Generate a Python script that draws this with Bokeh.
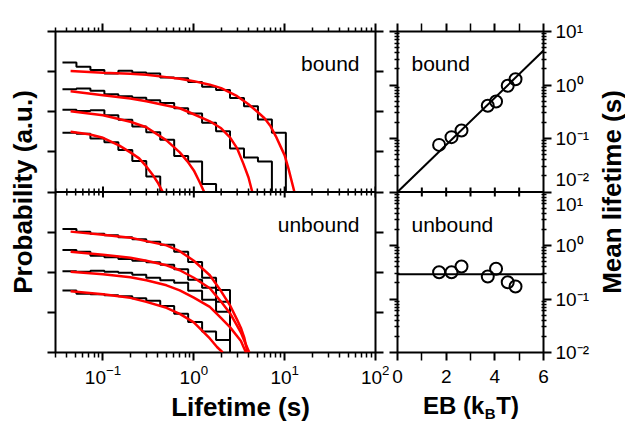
import math
from bokeh.plotting import figure
from bokeh.models import (Range1d, LogAxis, LinearAxis, FixedTicker, Span, Label,
                          CustomJSTickFormatter)
from bokeh.layouts import row
from bokeh.embed import file_html
from bokeh.resources import INLINE

FONT = "Liberation Sans"

# ---------------- left panels: lifetime survival histograms ----------------
# log-spaced bin edges (s)
bin_edges = [0.0358, 0.0510, 0.0727, 0.1036, 0.1476, 0.2102, 0.2995, 0.4267,
             0.6077, 0.8659, 1.233, 1.757, 2.503, 3.566, 5.080, 7.236, 10.31]

# bound (top panel), probability in a.u. (panel units)
bound_hist_1 = [0.170, 0.132, 0.110, 0.090, 0.105, 0.095, 0.090, 0.071,
                0.068, 0.055, 0.042, 0.035, 0.022, 0.0138, 0.0064, 0.0030]
bound_hist_2 = [0.0365, 0.0380, 0.0335, 0.0274, 0.0244, 0.0224, 0.0194, 0.0166,
                0.0122, 0.00902, 0.00531, 0.00325, 0.00122, 0.000729, 0.000579]
bound_hist_3 = [0.01122, 0.01047, 0.0109, 0.00818, 0.00631, 0.00427, 0.00307,
                0.00200, 0.000794, 0.000579, 0.000158]
bound_hist_4 = [0.00299, 0.00282, 0.00214, 0.00173, 0.00112, 0.000596, 0.000244]

bound_fit_t_1 = [0.044, 0.1, 0.2, 0.3, 0.5, 0.7, 1, 1.5, 2, 3, 4, 5, 6, 7, 8, 9, 10, 11, 12.8]
bound_fit_p_1 = [0.103, 0.0933, 0.0891, 0.0841, 0.0729, 0.0668, 0.0579, 0.0473, 0.0387,
                 0.0244, 0.0154, 0.0100, 0.00688, 0.00434, 0.00244, 0.00137, 0.000818,
                 0.000387, 0.0001]
bound_fit_t_2 = [0.044, 0.1, 0.2, 0.3, 0.5, 0.7, 1, 1.5, 2, 2.5, 3, 3.5, 4, 4.4]
bound_fit_p_2 = [0.0325, 0.0259, 0.0214, 0.0183, 0.01437, 0.01224, 0.00866, 0.00579,
                 0.00387, 0.00230, 0.00122, 0.000516, 0.000230, 0.0001]
bound_fit_t_3 = [0.044, 0.1, 0.2, 0.3, 0.5, 0.7, 0.85, 1, 1.15, 1.3]
bound_fit_p_3 = [0.01029, 0.00818, 0.00562, 0.00410, 0.00194, 0.000972, 0.000579,
                 0.000345, 0.000183, 0.0001]
bound_fit_t_4 = [0.044, 0.07, 0.1, 0.15, 0.2, 0.25, 0.3, 0.35, 0.4, 0.455]
bound_fit_p_4 = [0.00316, 0.00274, 0.00224, 0.001453, 0.000972, 0.000688, 0.000434,
                 0.000274, 0.000173, 0.0001]

# unbound (bottom panel), probability in a.u. (panel units)
unbound_hist_1 = [0.120, 0.1029, 0.0917, 0.0841, 0.0741, 0.0668, 0.0579, 0.0487,
                  0.0325, 0.0180, 0.00729, 0.00359]
unbound_hist_2 = [0.0361, 0.0325, 0.0259, 0.0237, 0.0214, 0.0194, 0.0178, 0.0154,
                  0.0119, 0.00649, 0.00410, 0.00183]
unbound_hist_3 = [0.0106, 0.0103, 0.0109, 0.0103, 0.00972, 0.00866, 0.00729, 0.00631,
                  0.00546, 0.00345, 0.00205, 0.00103]
unbound_hist_4 = [0.00351, 0.00290, 0.00282, 0.00266, 0.00251, 0.00224, 0.00194,
                  0.00145, 0.000918, 0.000579, 0.000335, 0.000205]

unbound_fit_t_1 = [0.044, 0.1, 0.2, 0.3, 0.5, 0.7, 1, 1.5, 2, 2.5, 3, 3.3, 3.6, 3.9]
unbound_fit_p_1 = [0.1029, 0.0866, 0.0729, 0.0596, 0.0468, 0.0335, 0.0194, 0.00841,
                   0.00335, 0.00150, 0.000649, 0.000410, 0.000230, 0.0001]
unbound_fit_t_2 = [0.044, 0.1, 0.2, 0.3, 0.5, 0.7, 1, 1.5, 2, 2.5, 3, 3.3, 3.7, 4.08]
unbound_fit_p_2 = [0.0325, 0.0274, 0.0230, 0.0194, 0.01496, 0.01122, 0.00729, 0.00398,
                   0.00183, 0.000955, 0.000460, 0.000313, 0.000168, 0.0001]
unbound_fit_t_3 = [0.044, 0.1, 0.2, 0.3, 0.5, 0.7, 1, 1.5, 2, 2.5, 3, 3.3, 3.75]
unbound_fit_p_3 = [0.0103, 0.00891, 0.00750, 0.00631, 0.00473, 0.00355, 0.00233,
                   0.00137, 0.000716, 0.000429, 0.000254, 0.000194, 0.0001]
unbound_fit_t_4 = [0.044, 0.1, 0.2, 0.3, 0.5, 0.7, 1, 1.5, 1.8, 2.08]
unbound_fit_p_4 = [0.00335, 0.00282, 0.00230, 0.00183, 0.00130, 0.000918, 0.000562,
                   0.000224, 0.000137, 0.0001]

# ---------------- right panels: mean lifetime vs EB ----------------
eb = [1.71, 2.22, 2.63, 3.71, 4.05, 4.53, 4.85]
tau_bound = [0.076, 0.106, 0.141, 0.41, 0.49, 0.97, 1.28]
tau_unbound = [0.317, 0.317, 0.405, 0.264, 0.367, 0.206, 0.171]
eb_fit = [0, 6]
tau_fit_bound = [0.01, 4.4]
tau_fit_unbound = [0.29, 0.29]

# tick labels
x_major_ticks = [0.1, 1, 10, 100]
eb_major_ticks = [0, 2, 4, 6]
eb_minor_ticks = [1, 3, 5]
sup_labels = {1: "10\u00b9", 0: "10\u2070", -1: "10\u207b\u00b9", -2: "10\u207b\u00b2"}

# stacking: both panels of a column share one frame; bottom panel is shifted
SHIFT_L = 1e-4      # left column: 4 decades per panel
SHIFT_R = 1e-3      # right column: 3 decades per panel
BOUND_L = 1e-4
BOUND_R = 1e-2


def style_axis(ax, major_out, major_in=0, minor_out=0, minor_in=0,
               labels=False, standoff=5):
    ax.axis_line_color = None
    ax.major_tick_line_color = "black"
    ax.major_tick_line_width = 2
    ax.minor_tick_line_color = "black"
    ax.minor_tick_line_width = 1.5
    ax.major_tick_out = major_out
    ax.major_tick_in = major_in
    ax.minor_tick_out = minor_out
    ax.minor_tick_in = minor_in
    if labels:
        ax.major_label_text_font = FONT
        ax.major_label_text_font_size = "19px"
        ax.major_label_text_color = "black"
        ax.major_label_standoff = standoff
    else:
        ax.formatter = CustomJSTickFormatter(code="return ''")
        ax.major_label_text_font_size = "0px"
        ax.major_label_standoff = 0


def style_title(ax, text, standoff):
    ax.axis_label = text
    ax.axis_label_text_font = FONT
    ax.axis_label_text_font_size = "26px"
    ax.axis_label_text_font_style = "bold"
    ax.axis_label_text_color = "black"
    ax.axis_label_standoff = standoff


def make_label(text, x, y, dx, dy, size, bold=False, align="left", angle=0.0,
               baseline="alphabetic"):
    return Label(x=x, y=y, x_offset=dx, y_offset=dy, text=text,
                 text_font=FONT, text_font_size=f"{size}px",
                 text_font_style="bold" if bold else "normal",
                 text_align=align, text_baseline=baseline,
                 angle=angle, text_color="black")


def base_fig(width, mb_left, mb_right, **kw):
    p = figure(width=width, height=426, output_backend="svg", toolbar_location=None,
               min_border_left=mb_left, min_border_right=mb_right,
               min_border_top=31, min_border_bottom=74, **kw)
    p.xgrid.grid_line_color = None
    p.ygrid.grid_line_color = None
    p.outline_line_color = "black"
    p.outline_line_width = 2
    p.outline_line_alpha = 1
    p.background_fill_color = "white"
    p.border_fill_color = "white"
    return p


# ================= left column =================
left = base_fig(389, 55, 14, x_axis_type="log", y_axis_type="log",
                x_range=Range1d(0.03, 100), y_range=Range1d(1e-8, 1))

x_minor = [m * d for d in (0.01, 0.1, 1, 10) for m in range(2, 10) if 0.03 <= m * d <= 100]
left_decades = [10.0 ** k for k in range(-8, 1)]

xt = FixedTicker(ticks=x_major_ticks, minor_ticks=x_minor)
yt = FixedTicker(ticks=left_decades, minor_ticks=[])

bx = left.xaxis[0]
bx.ticker = xt
style_axis(bx, 8, 0, 5, 0, labels=True, standoff=4)
ax_top = LogAxis(ticker=xt)
style_axis(ax_top, 8, 0, 4, 0)
left.add_layout(ax_top, "above")

ly = left.yaxis[0]
ly.ticker = yt
style_axis(ly, 8)
style_title(ly, "Probability (a.u.)", 10)
ry = LogAxis(ticker=yt)
style_axis(ry, 8)
left.add_layout(ry, "right")

left.add_layout(Span(location=BOUND_L, dimension="width", line_color="black", line_width=2))
left.scatter(x=x_major_ticks, y=[BOUND_L] * len(x_major_ticks), marker="dash", size=11,
             angle=math.pi / 2, line_color="black", line_width=2)
left.scatter(x=x_minor, y=[BOUND_L] * len(x_minor), marker="dash", size=7,
             angle=math.pi / 2, line_color="black", line_width=1.5)


def hist(p, values, shift, floor):
    n = len(values)
    xs = bin_edges[:n + 1]
    ys = [v * shift for v in values] + [floor]
    p.step(x=xs, y=ys, mode="after", line_color="black", line_width=2)


for h in (bound_hist_1, bound_hist_2, bound_hist_3, bound_hist_4):
    hist(left, h, 1.0, BOUND_L)
for h in (unbound_hist_1, unbound_hist_2, unbound_hist_3, unbound_hist_4):
    hist(left, h, SHIFT_L, 1e-8)

for t, pv in ((bound_fit_t_1, bound_fit_p_1), (bound_fit_t_2, bound_fit_p_2),
              (bound_fit_t_3, bound_fit_p_3), (bound_fit_t_4, bound_fit_p_4)):
    left.line(t, pv, line_color="#ff0000", line_width=2.5, line_join="round")
for t, pv in ((unbound_fit_t_1, unbound_fit_p_1), (unbound_fit_t_2, unbound_fit_p_2),
              (unbound_fit_t_3, unbound_fit_p_3), (unbound_fit_t_4, unbound_fit_p_4)):
    left.line(t, [v * SHIFT_L for v in pv], line_color="#ff0000", line_width=2.5,
              line_join="round")

left.add_layout(make_label("bound", 100, 1, -16, -32, 21, align="right"))
left.add_layout(make_label("unbound", 100, BOUND_L, -16, -32.5, 21, align="right"))
# x-axis title sits in the bottom side panel (not clipped by the frame)
left.add_layout(make_label("Lifetime (s)", 0.03, 1e-8, 185, -54, 26, bold=True,
                           align="center", baseline="middle"), "below")

# ================= right column =================
right = base_fig(236, 8, 82, y_axis_type="log",
                 x_range=Range1d(0, 6), y_range=Range1d(1e-5, 10))

r_decades = [1e-5, 1e-4, 1e-3, 1e-2, 1e-1, 1.0, 10.0]
r_minor = [m * d for d in r_decades[:-1] for m in range(2, 10)]
ebt = FixedTicker(ticks=eb_major_ticks, minor_ticks=eb_minor_ticks)
rt = FixedTicker(ticks=r_decades, minor_ticks=r_minor)

rbx = right.xaxis[0]
rbx.ticker = ebt
style_axis(rbx, 8, 0, 8, 0, labels=True, standoff=9)
rtop = LinearAxis(ticker=ebt)
style_axis(rtop, 8, 0, 8, 0)
right.add_layout(rtop, "above")

rly = right.yaxis[0]
rly.ticker = rt
style_axis(rly, 8, 0, 3, 2)
rry = LogAxis(ticker=rt)
style_axis(rry, 8, 0, 3, 2, labels=True, standoff=4)
rry.major_label_overrides = {
    10.0: sup_labels[1], 1.0: sup_labels[0], 0.1: sup_labels[-1],
    0.01: sup_labels[-2] + "\n" + sup_labels[1],
    0.001: sup_labels[0], 0.0001: sup_labels[-1], 1e-05: sup_labels[-2],
}
right.add_layout(rry, "right")
# y-axis title on the right, reading bottom-to-top, in the right side panel
right.add_layout(make_label("Mean lifetime (s)", 6, BOUND_R, 68, 0, 26, bold=True,
                            align="center", angle=math.pi / 2, baseline="middle"),
                 "right")

right.add_layout(Span(location=BOUND_R, dimension="width", line_color="black", line_width=2))
right.scatter(x=eb_minor_ticks + eb_major_ticks[1:3], y=[BOUND_R] * 5, marker="dash",
              size=9, angle=math.pi / 2, line_color="black", line_width=2)

right.line(eb_fit, tau_fit_bound, line_color="black", line_width=2)
right.line(eb_fit, [v * SHIFT_R for v in tau_fit_unbound], line_color="black", line_width=2)
right.scatter(eb, tau_bound, marker="circle", size=12, fill_color=None,
              line_color="black", line_width=2)
right.scatter(eb, [v * SHIFT_R for v in tau_unbound], marker="circle", size=12,
              fill_color=None, line_color="black", line_width=2)

right.add_layout(make_label("bound", 0, 10, 14, -32, 21, align="left"))
right.add_layout(make_label("unbound", 0, BOUND_R, 14, -32.5, 21, align="left"))
# x-axis title "EB (kBT)" with subscript B, in side panels (not clipped)
right.add_layout(make_label("EB (k\u2002T)", 0, 1e-5, 73.5, -52.7, 24, bold=True,
                            align="center", baseline="middle"), "below")
right.add_layout(make_label("B", 0, 1e-5, 87.2, -60.8, 15, bold=True, align="left",
                           baseline="middle"), "above")

layout = row(left, right)
open("out.html", "w").write(file_html(layout, INLINE))
